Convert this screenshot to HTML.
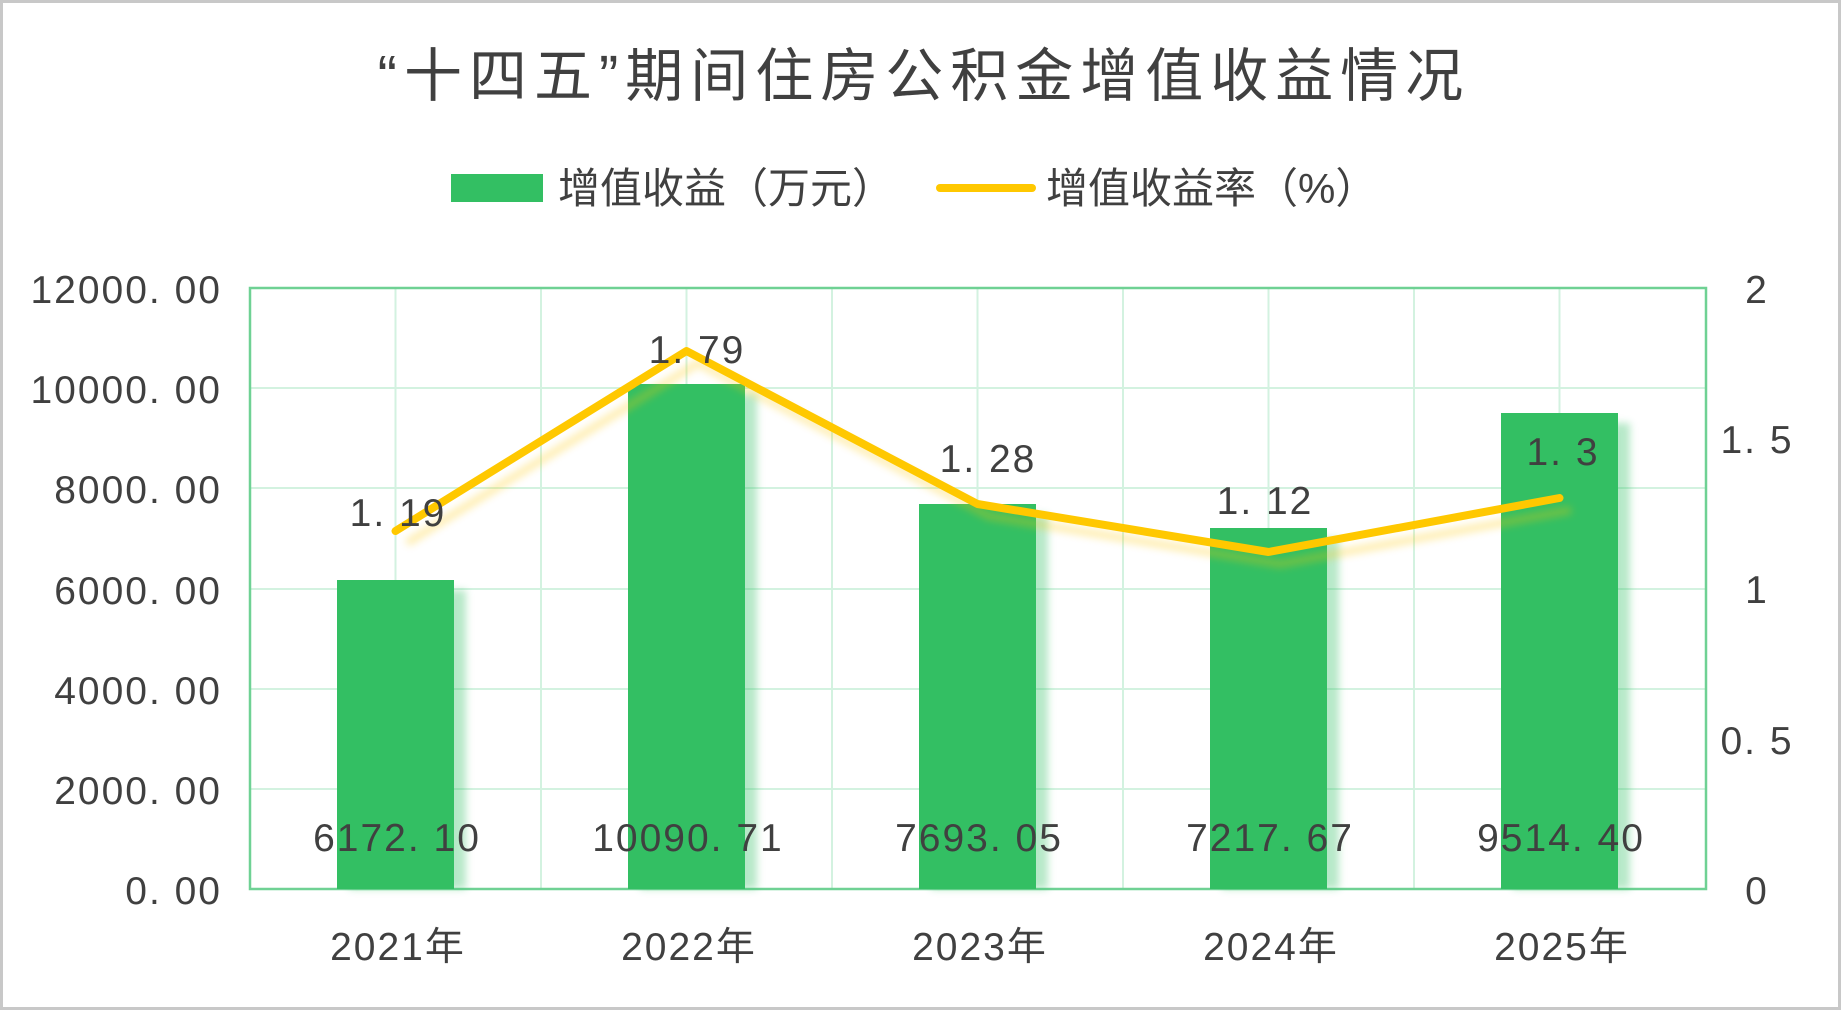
<!DOCTYPE html>
<html><head><meta charset="utf-8"><style>
body{margin:0;background:#fff}
svg{display:block}
text{font-family:"Liberation Sans","Noto Sans CJK SC",sans-serif;fill:#404040}
</style></head><body>
<svg width="1842" height="1011" viewBox="0 0 1842 1011">
<defs>
<filter id="sh" x="-20%" y="-20%" width="150%" height="150%"><feGaussianBlur stdDeviation="4"/></filter>
</defs>
<rect x="1.5" y="1.5" width="1838" height="1007" fill="#fff" stroke="#c8c8c8" stroke-width="3"/>
<text x="924" y="96" font-size="58" letter-spacing="7" text-anchor="middle" font-family="Noto Sans CJK SC,sans-serif">“十四五”期间住房公积金增值收益情况</text>
<rect x="451" y="174" width="92" height="28" fill="#33bf63"/>
<text x="558" y="203" font-size="42" font-family="Noto Sans CJK SC,sans-serif">增值收益（万元）</text>
<line x1="940" y1="188" x2="1032" y2="188" stroke="#ffc800" stroke-width="8" stroke-linecap="round"/>
<text x="1046" y="203" font-size="42" font-family="Noto Sans CJK SC,sans-serif">增值收益率（%）</text>
<g stroke="#d3f2e0" stroke-width="2">
<line x1="250" y1="388" x2="1706" y2="388"/><line x1="250" y1="488" x2="1706" y2="488"/><line x1="250" y1="589" x2="1706" y2="589"/><line x1="250" y1="689" x2="1706" y2="689"/><line x1="250" y1="789" x2="1706" y2="789"/>
<line x1="395.5" y1="288" x2="395.5" y2="889"/><line x1="541" y1="288" x2="541" y2="889"/><line x1="686.5" y1="288" x2="686.5" y2="889"/><line x1="832" y1="288" x2="832" y2="889"/><line x1="977.5" y1="288" x2="977.5" y2="889"/><line x1="1123" y1="288" x2="1123" y2="889"/><line x1="1268.5" y1="288" x2="1268.5" y2="889"/><line x1="1414" y1="288" x2="1414" y2="889"/><line x1="1559.5" y1="288" x2="1559.5" y2="889"/>
</g>
<rect x="250" y="288" width="1456" height="601" fill="none" stroke="#6fd194" stroke-width="2.5"/>
<g fill="#33bf63" opacity="0.35" filter="url(#sh)">
<rect x="349" y="590" width="117" height="299"/><rect x="640" y="394" width="117" height="495"/><rect x="931" y="514" width="117" height="375"/><rect x="1222" y="538" width="117" height="351"/><rect x="1513" y="423" width="117" height="466"/>
</g>
<g fill="#33bf63">
<rect x="337" y="580" width="117" height="309"/><rect x="628" y="384" width="117" height="505"/><rect x="919" y="504" width="117" height="385"/><rect x="1210" y="528" width="117" height="361"/><rect x="1501" y="413" width="117" height="476"/>
</g>
<polyline points="407,543 698,363 989,516 1280,564 1571,510" fill="none" stroke="#ffc800" stroke-width="8" opacity="0.3" filter="url(#sh)"/>
<polyline points="395.5,531 686.5,351 977.5,504 1268.5,552 1559.5,498" fill="none" stroke="#ffc800" stroke-width="8" stroke-linecap="round" stroke-linejoin="round"/>
<g font-size="39" letter-spacing="2" text-anchor="end">
<text x="222" y="303">12000. 00</text><text x="222" y="403">10000. 00</text><text x="222" y="503">8000. 00</text><text x="222" y="604">6000. 00</text><text x="222" y="704">4000. 00</text><text x="222" y="804">2000. 00</text><text x="222" y="904">0. 00</text>
</g>
<g font-size="39" letter-spacing="2" text-anchor="middle">
<text x="1757" y="303">2</text><text x="1757" y="453">1. 5</text><text x="1757" y="603">1</text><text x="1757" y="754">0. 5</text><text x="1757" y="904">0</text>
<text x="398" y="960">2021年</text><text x="689" y="960">2022年</text><text x="980" y="960">2023年</text><text x="1271" y="960">2024年</text><text x="1562" y="960">2025年</text>
<text x="397" y="851">6172. 10</text><text x="688" y="851">10090. 71</text><text x="979" y="851">7693. 05</text><text x="1270" y="851">7217. 67</text><text x="1561" y="851">9514. 40</text>
<text x="398" y="526">1. 19</text><text x="697" y="363">1. 79</text><text x="988" y="472">1. 28</text><text x="1265" y="514">1. 12</text><text x="1563" y="465">1. 3</text>
</g>
</svg>
</body></html>
